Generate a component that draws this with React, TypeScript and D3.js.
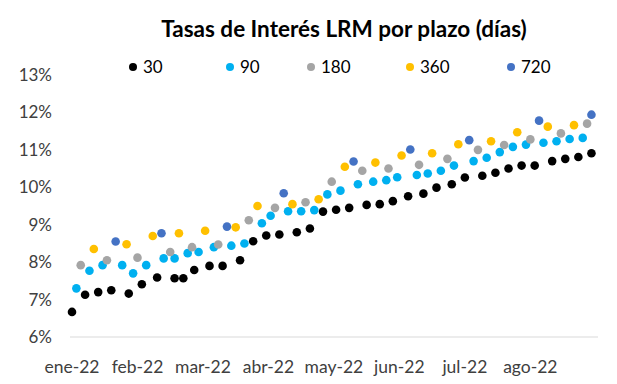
import React from 'react';
import * as d3 from 'd3';

const width = 617;
const height = 384;
const margin = { top: 75, right: 19, bottom: 47, left: 72 };

// días desde el 1 de enero de 2022, y tasa (%) para cada plazo
const days30 = [2, 8, 14, 20, 28, 34, 41, 49, 53, 58, 65, 71, 79, 85, 91, 97, 105, 111, 117, 123, 129, 137, 143, 149, 156, 163, 169, 176, 182, 190, 196, 202, 208, 214, 222, 228, 234, 240];
const rates30 = [6.67, 7.13, 7.2, 7.25, 7.16, 7.41, 7.59, 7.57, 7.57, 7.79, 7.9, 7.9, 8.05, 8.56, 8.71, 8.74, 8.8, 8.9, 9.35, 9.4, 9.45, 9.53, 9.55, 9.63, 9.76, 9.83, 9.99, 10.08, 10.26, 10.31, 10.39, 10.5, 10.58, 10.58, 10.7, 10.76, 10.81, 10.91];

const days90 = [4, 10, 16, 25, 30, 36, 44, 49, 55, 60, 67, 75, 81, 89, 93, 101, 107, 113, 119, 125, 133, 140, 146, 151, 160, 165, 171, 177, 186, 192, 198, 204, 210, 218, 224, 230, 236];
const rates90 = [7.3, 7.77, 7.92, 7.92, 7.7, 7.92, 8.1, 8.1, 8.24, 8.27, 8.4, 8.44, 8.5, 9.04, 9.24, 9.36, 9.36, 9.39, 9.81, 9.91, 10.08, 10.15, 10.19, 10.27, 10.33, 10.37, 10.44, 10.58, 10.7, 10.79, 10.94, 11.08, 11.14, 11.19, 11.23, 11.29, 11.32];

const days180 = [6, 18, 32, 47, 57, 69, 83, 95, 109, 121, 135, 147, 161, 174, 188, 200, 212, 226, 238];
const rates180 = [7.92, 8.05, 8.12, 8.27, 8.4, 8.47, 9.12, 9.45, 9.6, 10.15, 10.44, 10.5, 10.6, 10.76, 11.0, 11.13, 11.28, 11.44, 11.7];

const days360 = [12, 27, 39, 51, 63, 77, 87, 103, 115, 127, 141, 153, 167, 179, 194, 206, 220, 232];
const rates360 = [8.35, 8.48, 8.7, 8.77, 8.84, 8.93, 9.5, 9.55, 9.68, 10.55, 10.66, 10.85, 10.91, 11.15, 11.23, 11.47, 11.62, 11.66];

const days720 = [22, 43, 73, 99, 131, 157, 184, 216, 240];
const rates720 = [8.55, 8.77, 8.95, 9.84, 10.69, 11.01, 11.26, 11.78, 11.94];

const seriesNames = ['30', '90', '180', '360', '720'];
const seriesColors = ['#000000', '#00B0F0', '#A5A5A5', '#FFC000', '#4472C4'];
const yTicks = [6, 7, 8, 9, 10, 11, 12, 13];
const monthNames = ['ene', 'feb', 'mar', 'abr', 'may', 'jun', 'jul', 'ago', 'sep', 'oct', 'nov', 'dic'];

const start = new Date(2022, 0, 1);
const toDate = (n: number) => d3.timeDay.offset(start, n);

const series = [
  { days: days30, rates: rates30 },
  { days: days90, rates: rates90 },
  { days: days180, rates: rates180 },
  { days: days360, rates: rates360 },
  { days: days720, rates: rates720 },
].map((s, i) => ({
  name: seriesNames[i],
  color: seriesColors[i],
  points: s.days.map((d, j) => ({ date: toDate(d), rate: s.rates[j] })),
}));

const legendX = [133, 230, 311, 410, 511];

export default function App() {
  const { top, right, bottom, left } = margin;
  const x = d3.scaleTime()
    .domain([toDate(2), toDate(243)])
    .range([left, width - right]);
  const y = d3.scaleLinear()
    .domain([6, 13])
    .range([height - bottom, top]);

  // Excel: unidad mayor de 30 días desde el mínimo del eje
  const xTicks = d3.range(0, 8).map(k => d3.timeDay.offset(toDate(2), k * 30));
  const fmt = (d: Date) => `${monthNames[d.getMonth()]}-${String(d.getFullYear()).slice(2)}`;

  const font = 'Lato, "Open Sans", sans-serif';

  return (
    <svg width={width} height={height} style={{ position: 'absolute', left: 0, top: 0, background: '#fff' }}>
      <text x={344} y={29} dy="0.35em" textAnchor="middle" fontFamily={font} fontWeight="bold" fontSize={22.5} fill="#000">
        Tasas de Interés LRM por plazo (días)
      </text>

      {series.map((s, i) => (
        <g key={s.name} transform={`translate(${legendX[i]}, 67)`}>
          <circle r={4} fill={s.color} />
          <text x={10} dy="0.35em" fontFamily={font} fontSize={17} fill="#000">{s.name}</text>
        </g>
      ))}

      <line x1={x.range()[0] - 2} x2={x.range()[1]} y1={y(6)} y2={y(6)} stroke="#D9D9D9" strokeWidth={1} />

      {yTicks.map(t => (
        <text key={t} x={52} y={y(t)} dy="0.35em" textAnchor="end" fontFamily={font} fontSize={17} fill="#404040">
          {t}%
        </text>
      ))}

      {xTicks.map(t => (
        <text key={+t} x={x(t)} y={367} dy="0.35em" textAnchor="middle" fontFamily={font} fontSize={17.5} fill="#404040">
          {fmt(t)}
        </text>
      ))}

      {series.map(s => (
        <g key={s.name}>
          {s.points.map((p, j) => (
            <circle key={j} cx={x(p.date)} cy={y(p.rate)} r={4.3} fill={s.color} />
          ))}
        </g>
      ))}
    </svg>
  );
}
